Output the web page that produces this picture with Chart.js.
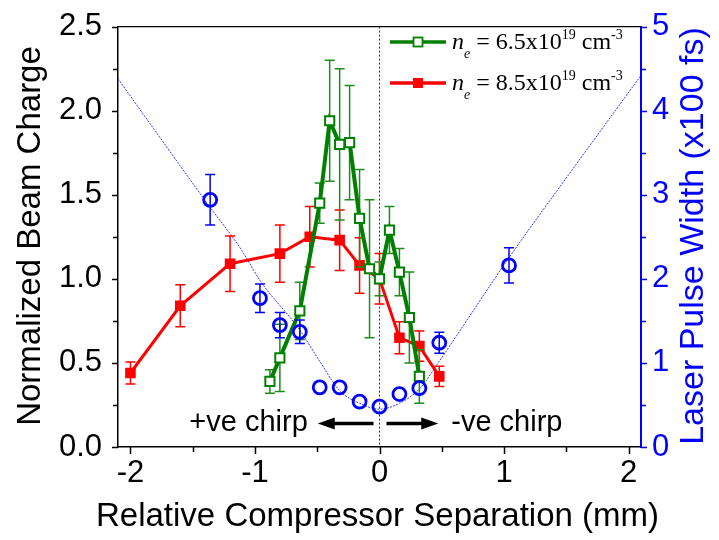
<!DOCTYPE html>
<html><head><meta charset="utf-8">
<script src="https://cdn.jsdelivr.net/npm/chart.js@4.4.0/dist/chart.umd.min.js"></script>
<style>html,body{margin:0;padding:0;background:#fff;}#wrap{width:719px;height:540px;position:relative;}</style>
</head><body><div id="wrap"><canvas id="c" width="719" height="540"></canvas></div>
<script>
// ---- data ----
const greenX   = [-0.88,-0.80,-0.64,-0.48,-0.40,-0.32,-0.24,-0.16,-0.08,0.00,0.08,0.16,0.24,0.32];
const greenY   = [0.39, 0.53, 0.81, 1.45, 1.94, 1.80, 1.81, 1.36, 1.06, 1.00,1.29,1.04,0.77,0.42];
const greenErr = [0.07, 0.20, 0.17, 0.12, 0.36, 0.45, 0.34, 0.29, 0.41, 0.10,0.14,0.14,0.27,0.16];

const redX   = [-2.00,-1.60,-1.20,-0.80,-0.56,-0.32,-0.16,0.00,0.16,0.32,0.48];
const redY   = [0.44, 0.84, 1.09, 1.15, 1.25, 1.23, 1.08, 1.00,0.65,0.60,0.42];
const redErr = [0.065,0.125,0.165,0.17,0.18, 0.18, 0.165,0.15,0.095,0.09,0.06];

const blueX   = [-1.36,-0.96,-0.80,-0.64,-0.48,-0.32,-0.16,0.00,0.16,0.32,0.48,1.04];
const blueY   = [2.94, 1.77, 1.45, 1.37, 0.71, 0.71, 0.54, 0.48,0.63,0.70,1.24,2.16];
const blueErr = [0.30, 0.17, 0.15, 0.14, 0,    0,    0,    0,   0,   0,   0.125,0.21];

const fitX = [-2.10,-1.70,-1.37,-1.12,-0.95,-0.65,-0.48,-0.32,-0.16,0.00,0.16,0.32,0.48,0.64,1.03,1.50,2.10];
const fitY = [4.38, 3.55, 2.87, 2.37, 1.96, 1.41, 1.02, 0.67, 0.52, 0.45,0.52,0.69,1.02,1.37,2.23,3.20,4.42];

const xTicks      = [-2,-1,0,1,2];
const xMinorTicks = [-1.5,-0.5,0.5,1.5];
const yTicks      = [0,0.5,1.0,1.5,2.0,2.5];
const yMinorTicks = [0.25,0.75,1.25,1.75,2.25];
const y1Ticks      = [0,1,2,3,4,5];
const y1MinorTicks = [0.5,1.5,2.5,3.5,4.5];

const SANS = "'Liberation Sans', Arial, sans-serif";
const SERIF = "'Liberation Serif', 'Times New Roman', serif";
const GREEN = '#008000', RED = '#ff0000', BLUE = '#0000ff';

const pts = (xs, ys) => xs.map((x, i) => ({x, y: ys[i]}));

const deco = {
  id: 'deco',
  beforeDatasetsDraw(chart) {
    const {ctx, chartArea: a, scales} = chart;
    const x0 = scales.x.getPixelForValue(0);
    ctx.save();
    ctx.strokeStyle = '#333'; ctx.lineWidth = 1; ctx.setLineDash([2, 2]);
    ctx.beginPath(); ctx.moveTo(x0, a.top); ctx.lineTo(x0, a.bottom); ctx.stroke();
    ctx.restore();
  },
  beforeDatasetDraw(chart, args) {
    const ds = chart.data.datasets[args.index];
    if (!ds.errs) return;
    const {ctx, scales} = chart;
    const ys = scales[ds.yAxisID], xs = scales.x;
    ctx.save();
    ctx.strokeStyle = ds.errColor; ctx.lineWidth = 1.5;
    ds.data.forEach((p, i) => {
      const e = ds.errs[i]; if (!e) return;
      const px = xs.getPixelForValue(p.x);
      const t = ys.getPixelForValue(p.y + e), b = ys.getPixelForValue(p.y - e);
      ctx.beginPath();
      ctx.moveTo(px, t); ctx.lineTo(px, b);
      ctx.moveTo(px - 5, t); ctx.lineTo(px + 5, t);
      ctx.moveTo(px - 5, b); ctx.lineTo(px + 5, b);
      ctx.stroke();
    });
    ctx.restore();
  },
  afterDraw(chart) {
    const {ctx, chartArea: a, scales} = chart;
    ctx.save();
    // top frame
    ctx.strokeStyle = '#000'; ctx.lineWidth = 1.2;
    ctx.beginPath(); ctx.moveTo(a.left, a.top); ctx.lineTo(a.right, a.top); ctx.stroke();
    // tick marks
    const tick = (scale, vals, len, color, side) => {
      ctx.strokeStyle = color; ctx.lineWidth = 1.5;
      vals.forEach(v => {
        const p = Math.round(scale.getPixelForValue(v)) + 0.5;
        ctx.beginPath();
        if (side === 'b') { ctx.moveTo(p, a.bottom); ctx.lineTo(p, a.bottom + len); }
        if (side === 'l') { ctx.moveTo(a.left, p); ctx.lineTo(a.left - len, p); }
        if (side === 'r') { ctx.moveTo(a.right, p); ctx.lineTo(a.right + len, p); }
        ctx.stroke();
      });
    };
    tick(scales.x, xTicks, 7, '#000', 'b'); tick(scales.x, xMinorTicks, 5, '#000', 'b');
    tick(scales.y, yTicks, 6, '#000', 'l'); tick(scales.y, yMinorTicks, 5, '#000', 'l');
    tick(scales.y1, y1Ticks, 6, BLUE, 'r'); tick(scales.y1, y1MinorTicks, 5, BLUE, 'r');

    // axis titles
    ctx.textAlign = 'center'; ctx.textBaseline = 'middle';
    ctx.font = '33px ' + SANS;
    ctx.fillStyle = '#000';
    ctx.fillText('Relative Compressor Separation (mm)', (a.left + a.right) / 2 - 2, 517);
    ctx.save(); ctx.translate(31, 236); ctx.rotate(-Math.PI / 2);
    ctx.fillText('Normalized Beam Charge', 0, 0); ctx.restore();
    ctx.save(); ctx.translate(694, 236); ctx.rotate(-Math.PI / 2);
    ctx.font = '34px ' + SANS;
    ctx.fillStyle = BLUE; ctx.fillText('Laser Pulse Width (x100 fs)', 0, 0); ctx.restore();

    // chirp annotations
    const ay = scales.y.getPixelForValue(0.14);
    ctx.font = '29px ' + SANS; ctx.fillStyle = '#000';
    ctx.textAlign = 'right';
    ctx.fillText('+ve chirp', scales.x.getPixelForValue(-0.576), ay);
    ctx.textAlign = 'left';
    ctx.fillText('-ve chirp', scales.x.getPixelForValue(0.576), ay);
    const arrow = (xs, xe) => {
      const s = scales.x.getPixelForValue(xs), e = scales.x.getPixelForValue(xe);
      const dir = Math.sign(e - s);
      ctx.strokeStyle = '#000'; ctx.lineWidth = 3.5;
      ctx.beginPath(); ctx.moveTo(s, ay); ctx.lineTo(e - dir * 12, ay); ctx.stroke();
      ctx.beginPath(); ctx.moveTo(e, ay); ctx.lineTo(e - dir * 17, ay - 6); ctx.lineTo(e - dir * 17, ay + 6); ctx.closePath();
      ctx.fillStyle = '#000'; ctx.fill();
    };
    arrow(-0.048, -0.496);
    arrow(0.056, 0.472);

    // legend
    const legendRow = (y, color, filled, num) => {
      ctx.strokeStyle = color; ctx.lineWidth = 3.5;
      ctx.beginPath(); ctx.moveTo(390, y); ctx.lineTo(446, y); ctx.stroke();
      if (filled) { ctx.fillStyle = color; ctx.fillRect(413, y - 5, 10, 10); }
      else { ctx.fillStyle = '#fff'; ctx.fillRect(413.5, y - 4.5, 9, 9); ctx.lineWidth = 1.8; ctx.strokeRect(413.5, y - 4.5, 9, 9); }
      let x = 452; const base = y + 7;
      ctx.fillStyle = '#000'; ctx.textAlign = 'left'; ctx.textBaseline = 'alphabetic';
      const put = (txt, font, dy) => { ctx.font = font; ctx.fillText(txt, x, base + dy); x += ctx.measureText(txt).width; };
      put('n', 'italic 24px ' + SERIF, 0);
      put('e', 'italic 14px ' + SERIF, 9);
      put(' = ' + num + 'x10', '24px ' + SERIF, 0);
      put('19', '14px ' + SERIF, -10);
      put(' cm', '24px ' + SERIF, 0);
      put('-3', '14px ' + SERIF, -10);
    };
    legendRow(42, GREEN, false, '6.5');
    legendRow(83, RED, true, '8.5');
    ctx.restore();
  }
};

new Chart(document.getElementById('c'), {
  type: 'line',
  data: {
    datasets: [
      { label: 'fit', data: pts(fitX, fitY), yAxisID: 'y1', order: 3,
        borderColor: 'rgba(20,20,255,0.85)', borderWidth: 1, borderDash: [2, 1.2],
        pointRadius: 0, cubicInterpolationMode: 'monotone', fill: false },
      { label: 'ne85', data: pts(redX, redY), yAxisID: 'y', order: 2, errs: redErr, errColor: RED,
        borderColor: RED, borderWidth: 3, pointStyle: 'rect', pointRadius: 7.5,
        pointBackgroundColor: RED, pointBorderColor: RED, pointBorderWidth: 0, fill: false },
      { label: 'ne65', data: pts(greenX, greenY), yAxisID: 'y', order: 1, errs: greenErr, errColor: '#1c8c1c',
        borderColor: GREEN, borderWidth: 4, pointStyle: 'rect', pointRadius: 6.5,
        pointBackgroundColor: '#fff', pointBorderColor: GREEN, pointBorderWidth: 2, fill: false },
      { label: 'pulse', data: pts(blueX, blueY), yAxisID: 'y1', order: 0, errs: blueErr, errColor: BLUE,
        showLine: false, pointStyle: 'circle', pointRadius: 6.5,
        pointBackgroundColor: 'rgba(255,255,255,0)', pointBorderColor: BLUE, pointBorderWidth: 2.8 }
    ]
  },
  options: {
    responsive: false, animation: false, devicePixelRatio: 1,
    layout: { padding: { top: 20, left: 0, right: 0, bottom: 0 } },
    plugins: { legend: { display: false }, tooltip: { enabled: false } },
    scales: {
      x: { type: 'linear', min: -2.1, max: 2.1,
        afterFit(s) { s.height = 93; },
        afterBuildTicks(s) { s.ticks = xTicks.map(v => ({value: v})); },
        grid: { display: false, drawTicks: true, tickLength: 8 },
        border: { display: true, color: '#000', width: 1.5 },
        ticks: { color: '#000', font: { family: SANS, size: 31 }, padding: 0, maxRotation: 0,
          callback: v => String(v) } },
      y: { type: 'linear', position: 'left', min: 0, max: 2.5,
        afterFit(s) { s.width = 118; },
        afterBuildTicks(s) { s.ticks = yTicks.map(v => ({value: v})); },
        grid: { display: false, drawTicks: true, tickLength: 8 },
        border: { display: true, color: '#000', width: 1.5 },
        ticks: { color: '#000', font: { family: SANS, size: 31 }, padding: 8,
          callback: v => Number(v).toFixed(1) } },
      y1: { type: 'linear', position: 'right', min: 0, max: 5,
        afterFit(s) { s.width = 78; },
        afterBuildTicks(s) { s.ticks = y1Ticks.map(v => ({value: v})); },
        grid: { display: false, drawTicks: true, tickLength: 8 },
        border: { display: true, color: BLUE, width: 2 },
        ticks: { color: BLUE, font: { family: SANS, size: 31 }, padding: 3,
          callback: v => String(v) } }
    }
  },
  plugins: [deco]
});
</script></body></html>
